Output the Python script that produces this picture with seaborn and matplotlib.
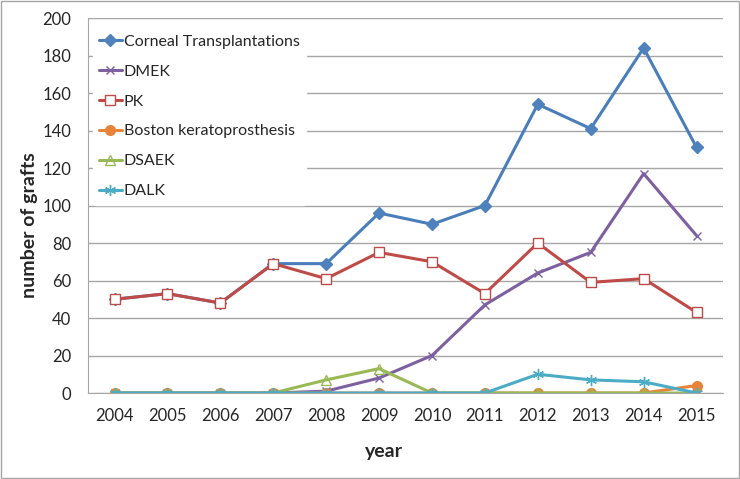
import numpy as np
import pandas as pd
import matplotlib
matplotlib.use("Agg")
import matplotlib.pyplot as plt
import seaborn as sns

years = [2004, 2005, 2006, 2007, 2008, 2009, 2010, 2011, 2012, 2013, 2014, 2015]
corneal = [50, 53, 48, 69, 69, 96, 90, 100, 154, 141, 184, 131]
dmek = [0, 0, 0, 0, 1, 8, 20, 47, 64, 75, 117, 84]
pk = [50, 53, 48, 69, 61, 75, 70, 53, 80, 59, 61, 43]
boston = [0, 0, 0, 0, 0, 0, 0, 0, 0, 0, 0, 4]
dsaek = [0, 0, 0, 0, 7, 13, 0, 0, 0, 0, 0, 0]
dalk = [0, 0, 0, 0, 0, 0, 0, 0, 10, 7, 6, 0]

series_names = ["Corneal Transplantations", "DMEK", "PK",
                "Boston keratoprosthesis", "DSAEK", "DALK"]
series_values = [corneal, dmek, pk, boston, dsaek, dalk]

df = pd.DataFrame({"year": years})
for name, vals in zip(series_names, series_values):
    df[name] = vals
long_df = df.melt(id_vars="year", var_name="series", value_name="grafts")

sns.set_style("white")
plt.rcParams["font.family"] = ["Lato", "DejaVu Sans"]

styles = {
    "Corneal Transplantations": dict(color="#4A7EBB", marker="D", ms=6, mfc="#4F81BD", mec="#4F81BD"),
    "DMEK": dict(color="#7D60A0", marker="x", ms=6, mfc="#7D60A0", mec="#7D60A0"),
    "PK": dict(color="#BE4B48", marker="s", ms=7, mfc="white", mec="#BE4B48"),
    "Boston keratoprosthesis": dict(color="#E8833A", marker="o", ms=7, mfc="#E8833A", mec="#E8833A"),
    "DSAEK": dict(color="#98B954", marker="^", ms=7, mfc="none", mec="#98B954"),
    "DALK": dict(color="#4BACC6", marker=(6, 2, 0), ms=8, mfc="#4BACC6", mec="#4BACC6"),
}

fig = plt.figure(figsize=(7.4, 4.79), dpi=100)
ax = fig.add_axes([0.119, 0.1795, 0.858, 0.7829])

for name in series_names:
    sub = long_df[long_df["series"] == name]
    st = styles[name]
    sns.lineplot(data=sub, x="year", y="grafts", ax=ax, color=st["color"],
                 linewidth=2.2, marker=st["marker"], markersize=st["ms"],
                 markerfacecolor=st["mfc"], markeredgecolor=st["mec"],
                 markeredgewidth=1.0, label=name)

ax.set_xlim(2003.5, 2015.5)
ax.set_ylim(0, 200)
ax.set_yticks(range(0, 201, 20))
ax.set_xticks(years)
ax.yaxis.grid(True, color="#A6A6A6", linewidth=1)
ax.set_axisbelow(True)
for s in ["top", "right"]:
    ax.spines[s].set_visible(False)
for s in ["left", "bottom"]:
    ax.spines[s].set_color("#A6A6A6")
ax.tick_params(axis="y", length=5, color="#A6A6A6", labelsize=12, pad=7)
ax.tick_params(axis="x", length=0, labelsize=12, pad=11)
ax.set_xlabel("year", fontsize=14, fontweight="bold")
ax.set_ylabel("number of grafts", fontsize=14, fontweight="bold")
ax.xaxis.set_label_coords(0.466, -0.133)
ax.yaxis.set_label_coords(-0.079, 0.448)

leg = ax.legend(loc="upper left", bbox_to_anchor=(0.0, 0.985), frameon=True,
                fontsize=11.5, labelspacing=0.98, handlelength=1.4,
                handletextpad=0.15, borderaxespad=0.3)
leg.get_frame().set_edgecolor("white")
leg.get_frame().set_facecolor("white")
leg.get_frame().set_alpha(1)

fig.patches.append(plt.Rectangle((0.002, 0.002), 0.996, 0.996, transform=fig.transFigure,
                                 fill=False, edgecolor="#A6A6A6", linewidth=1))

fig.savefig("out.png", dpi=100)
